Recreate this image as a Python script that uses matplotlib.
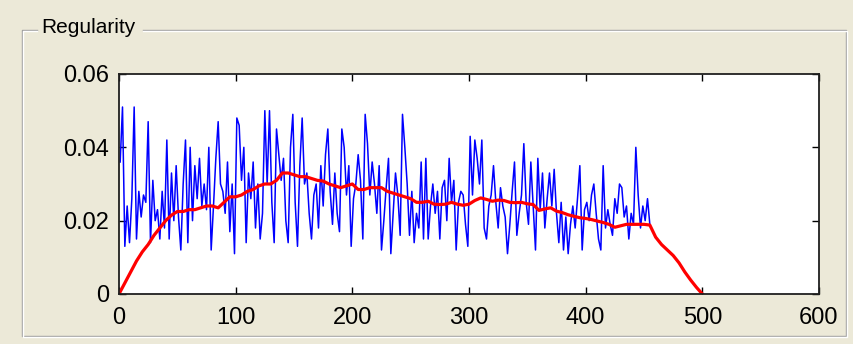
import numpy as np
import matplotlib
matplotlib.use("Agg")
import matplotlib.pyplot as plt
from matplotlib.lines import Line2D

plt.rcParams["font.family"] = ["Liberation Sans", "DejaVu Sans"]

# ==========================================================
# DATA (values in units of 1e-3)
# ==========================================================

# blue: raw regularity, sampled every 2 frames from 1 to 455
blue_x = np.arange(1, 456, 2)
blue_vals = [
    36, 51, 13, 24, 14, 26, 51, 15, 28, 21,
    27, 25, 47, 14, 31, 20, 23, 15, 28, 18,
    42, 15, 33, 20, 35, 21, 12, 30, 42, 14,
    40, 20, 35, 26, 37, 24, 30, 23, 40, 12,
    24, 37, 47, 30, 28, 22, 36, 17, 30, 11,
    48, 46, 31, 40, 14, 33, 26, 36, 18, 30,
    15, 22, 50, 30, 50, 25, 14, 45, 38, 31,
    37, 20, 14, 40, 49, 25, 13, 35, 48, 30,
    33, 22, 15, 27, 30, 18, 35, 24, 38, 45,
    28, 19, 33, 22, 17, 45, 40, 27, 35, 13,
    26, 30, 38, 31, 15, 49, 41, 27, 36, 30,
    22, 35, 12, 20, 29, 37, 11, 22, 33, 27,
    16, 49, 40, 30, 16, 28, 14, 22, 18, 36,
    15, 37, 15, 24, 30, 22, 28, 15, 29, 31,
    20, 37, 25, 31, 12, 25, 28, 27, 19, 13,
    43, 27, 42, 37, 30, 42, 18, 15, 24, 27,
    35, 25, 18, 29, 24, 21, 11, 19, 28, 36,
    16, 22, 27, 41, 25, 19, 36, 24, 12, 37,
    23, 33, 18, 26, 33, 24, 34, 22, 14, 25,
    12, 21, 11, 19, 24, 18, 26, 35, 12, 23,
    25, 20, 27, 30, 22, 15, 12, 35, 18, 23,
    19, 16, 26, 22, 30, 29, 21, 24, 15, 22,
    19, 40, 27, 18, 24, 20, 26, 19,
]

# red: smoothed regularity, every 5 frames from 0 to 500
red_x = np.arange(0, 501, 5)
red_vals = [
    0, 3, 6, 9, 11.5, 13.5, 16, 18, 20, 21.5,
    22.5, 22.5, 23, 23, 23.5, 24, 24, 23.5, 25, 26.5,
    26.5, 27, 28, 28.5, 29.5, 30, 30, 31, 33, 33,
    32.5, 32, 32, 31.5, 31, 30.8, 30, 29.5, 29, 29.5,
    30, 28.5, 28.5, 29, 29, 29, 28, 27.5, 27, 26.5,
    26, 25, 25, 25.3, 24.5, 24.4, 24.5, 25, 24.5, 24.2,
    24.5, 25.5, 26.2, 25.8, 25.3, 25.6, 25.5, 25, 24.9, 25,
    24.6, 24.4, 22.8, 23.2, 23.5, 22.6, 22.2, 21.6, 21.2, 20.8,
    20.6, 20.3, 19.9, 19.5, 19, 18.2, 18.6, 19, 19, 19,
    19, 18.8, 15.5, 13.5, 12, 10.5, 8.5, 6, 3.8, 1.8, 0,
]

x_ticks = [0, 100, 200, 300, 400, 500, 600]
y_ticks = [0, 0.02, 0.04, 0.06]
y_tick_labels = ["0", "0.02", "0.04", "0.06"]
title = "Regularity"

# ==========================================================
# FIGURE
# ==========================================================

W, H = 854, 344
bg = "#ECE9D8"

fig = plt.figure(figsize=(W / 100, H / 100), dpi=100, facecolor=bg)


def px(x, y):
    return x / W, 1 - y / H


# group box frame (gray line + white highlight)
def frame_line(xs, ys, color, lw=1.0):
    pts = [px(a, b) for a, b in zip(xs, ys)]
    fig.add_artist(Line2D([p[0] for p in pts], [p[1] for p in pts],
                          color=color, lw=lw, transform=fig.transFigure))


for off, col in [(0, "#A0A0A0"), (1.2, "white")]:
    frame_line([37, 22 + off, 22 + off, 846 + off, 846 + off, 143],
               [30 + off, 30 + off, 336 + off, 336 + off, 30 + off, 30 + off], col)

fig.text(*px(41, 33), title, fontsize=15, ha="left", va="baseline", color="black")

ax = fig.add_axes([119 / W, (H - 294) / H, 700 / W, 220 / H])
ax.set_facecolor("white")

ax.plot(blue_x, np.array(blue_vals) * 1e-3, color="#0000FF", lw=1.1)
ax.plot(red_x, np.array(red_vals) * 1e-3, color="#FF0000", lw=2.3)

ax.set_xlim(0, 600)
ax.set_ylim(0, 0.06)
ax.set_xticks(x_ticks)
ax.set_xticklabels([str(t) for t in x_ticks])
ax.set_yticks(y_ticks)
ax.set_yticklabels(y_tick_labels)

ax.tick_params(direction="in", length=5, width=1, top=True, right=True,
               labelsize=17, colors="black")
ax.tick_params(axis="x", pad=9)
ax.tick_params(axis="y", pad=7)
for s in ax.spines.values():
    s.set_linewidth(1.3)
    s.set_color("#202020")

fig.savefig("out.png", dpi=100, facecolor=bg)
